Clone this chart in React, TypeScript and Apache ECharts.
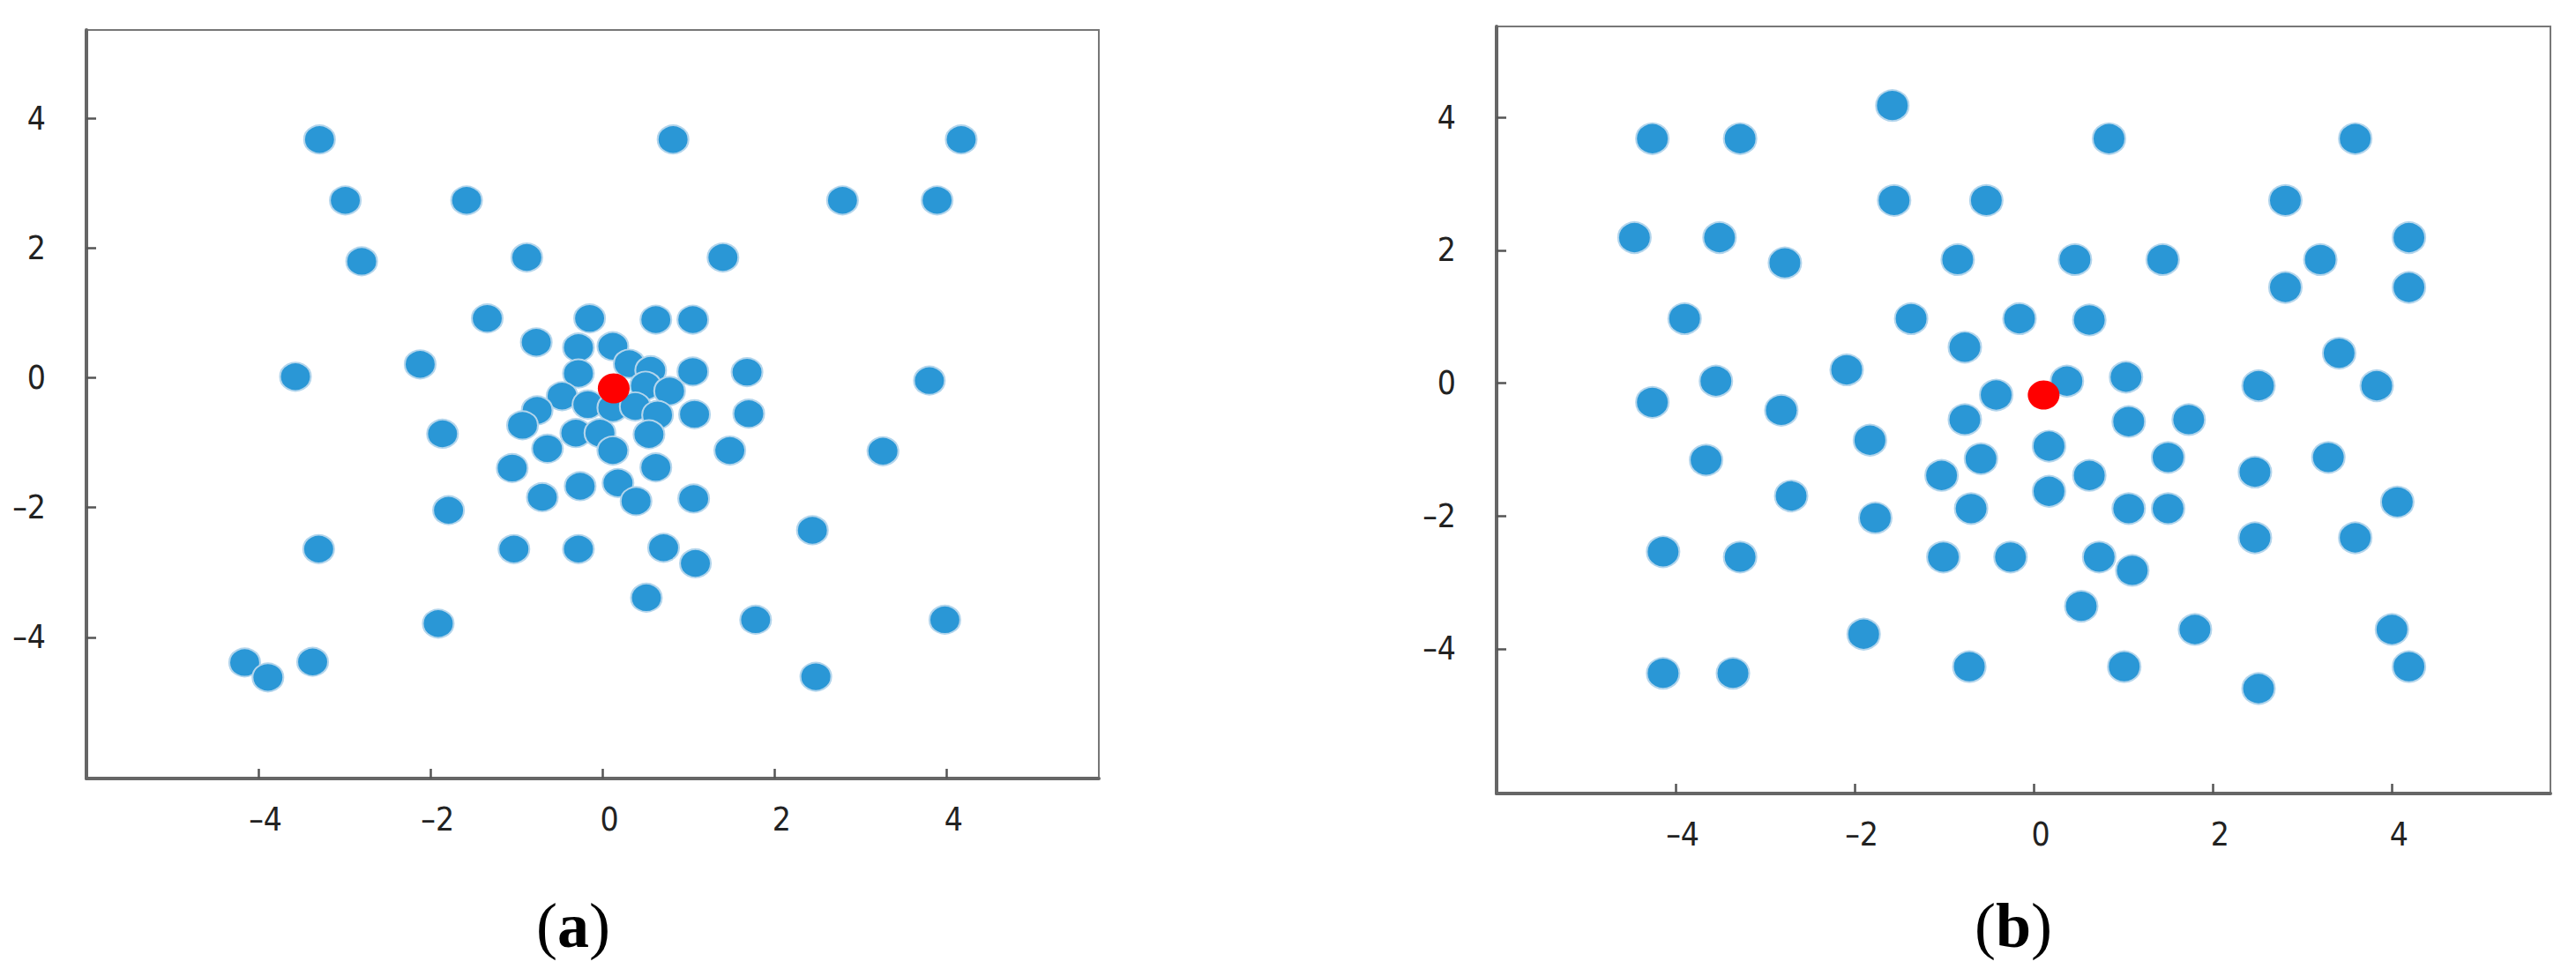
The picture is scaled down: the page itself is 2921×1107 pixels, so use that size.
import React, { useEffect, useRef } from "react";
import * as echarts from "echarts";

const tickValues = [-4, -2, 0, 2, 4];
const panelNames = ["a", "b"];

// panel (a): blue agents
const blueA: number[][] = [
  [-3.29, 3.68], [0.82, 3.68], [4.17, 3.68],
  [-2.99, 2.74], [-1.58, 2.74], [2.79, 2.74], [3.89, 2.74],
  [-2.8, 1.8], [-0.88, 1.86], [1.4, 1.86],
  [-1.34, 0.92], [-0.15, 0.92], [0.62, 0.9], [1.05, 0.9],
  [-0.77, 0.55], [-2.12, 0.21], [-3.57, 0.02], [1.68, 0.09], [1.05, 0.1], [3.8, -0.04],
  [1.7, -0.55], [1.07, -0.56], [-1.86, -0.86], [3.26, -1.13], [1.48, -1.12],
  [-1.05, -1.39], [0.62, -1.38], [-1.79, -2.04], [-0.7, -1.84], [-0.26, -1.67],
  [0.18, -1.62], [0.39, -1.9], [1.06, -1.86], [2.44, -2.35],
  [-3.3, -2.64], [-1.03, -2.64], [-0.28, -2.64], [0.71, -2.62], [1.08, -2.86],
  [0.51, -3.39], [-1.91, -3.79], [1.78, -3.73], [3.98, -3.73],
  [-4.16, -4.39], [-3.89, -4.62], [-3.37, -4.38], [2.48, -4.61],
  [-0.28, 0.47], [0.12, 0.49], [0.31, 0.22], [0.56, 0.12], [-0.28, 0.07],
  [0.5, -0.12], [0.78, -0.2], [-0.47, -0.28], [-0.76, -0.5], [-0.17, -0.41],
  [0.12, -0.46], [0.38, -0.44], [0.64, -0.57], [-0.93, -0.73], [-0.31, -0.85],
  [-0.03, -0.85], [0.54, -0.87], [-0.64, -1.09], [0.12, -1.12],
];
const redA: number[][] = [[0.13, -0.16]];

// panel (b): blue agents
const blueB: number[][] = [
  [-1.58, 4.18], [-4.26, 3.68], [-3.28, 3.68], [0.84, 3.68], [3.59, 3.68],
  [-1.56, 2.75], [-0.53, 2.75], [2.81, 2.75],
  [-4.46, 2.19], [-3.51, 2.19], [4.19, 2.19],
  [-2.78, 1.81], [-0.85, 1.86], [0.46, 1.86], [1.44, 1.86], [3.2, 1.86],
  [2.81, 1.44], [4.19, 1.44],
  [-3.9, 0.97], [-1.37, 0.97], [-0.16, 0.97], [0.62, 0.95],
  [-0.77, 0.54], [3.41, 0.45], [-2.09, 0.2], [-3.55, 0.03], [0.37, 0.03], [1.03, 0.09],
  [2.51, -0.04], [3.83, -0.04], [-4.26, -0.29], [-0.42, -0.18], [-2.82, -0.41],
  [-0.77, -0.55], [1.06, -0.58], [1.73, -0.55], [-1.83, -0.86], [0.17, -0.95],
  [-3.66, -1.16], [-0.59, -1.14], [1.5, -1.12], [3.29, -1.12],
  [-1.03, -1.39], [0.62, -1.39], [2.47, -1.34], [-2.71, -1.7], [0.17, -1.63], [4.06, -1.79],
  [-1.77, -2.03], [-0.7, -1.89], [1.06, -1.89], [1.5, -1.89],
  [-4.14, -2.54], [-3.28, -2.62], [-1.01, -2.62], [-0.26, -2.62], [0.73, -2.62],
  [2.47, -2.33], [3.59, -2.33], [1.1, -2.82], [0.53, -3.36],
  [-1.9, -3.78], [1.8, -3.71], [4.0, -3.71],
  [-4.14, -4.37], [-3.36, -4.37], [-0.72, -4.27], [1.01, -4.27], [4.19, -4.27], [2.51, -4.6],
];
const redB: number[][] = [[0.11, -0.18]];

const BLUE = "#2A97D6";
const RED = "#FF0000";
const labelFont = "'Liberation Sans Narrow', 'DejaVu Sans Condensed', 'Liberation Sans', Arial, sans-serif";

const fmt = (v: number) => (tickValues.indexOf(v) >= 0 ? (v < 0 ? "\u2013" + Math.abs(v) : String(v)) : "");

function makeX(gridIndex: number) {
  return {
    type: "value",
    gridIndex,
    min: -6,
    max: 5.77,
    axisLine: { show: true, onZero: false, lineStyle: { color: "#666", width: 4 } },
    axisTick: { show: true, inside: true, length: 11, customValues: tickValues, lineStyle: { color: "#555", width: 2.5 } },
    axisLabel: { show: true, customValues: tickValues, formatter: fmt, fontSize: 37, color: "#222", margin: 28, fontFamily: labelFont, padding: [0, 0, 0, 16] },
    splitLine: { show: false },
  };
}
function makeY(gridIndex: number) {
  return {
    type: "value",
    gridIndex,
    min: -6.18,
    max: 5.37,
    axisLine: { show: true, onZero: false, lineStyle: { color: "#666", width: 4 } },
    axisTick: { show: true, inside: true, length: 11, customValues: tickValues, lineStyle: { color: "#555", width: 2.5 } },
    axisLabel: { show: true, customValues: tickValues, formatter: fmt, fontSize: 37, color: "#222", margin: 46, fontFamily: labelFont },
    splitLine: { show: false },
  };
}

function scatter(idx: number, data: number[][], color: string, size: number[], border: boolean) {
  return {
    type: "scatter",
    xAxisIndex: idx,
    yAxisIndex: idx,
    data,
    symbol: "circle",
    symbolSize: size,
    itemStyle: {
      color,
      opacity: 1,
      borderColor: border ? "#B3D5EC" : color,
      borderWidth: border ? 2 : 0,
    },
    emphasis: { disabled: true },
    silent: true,
  };
}

function panelLabel(name: string, cx: number, cy: number) {
  return {
    type: "text",
    x: cx,
    y: cy,
    style: {
      text: "{p|(}{b|" + name + "}{p|)}",
      align: "center",
      verticalAlign: "middle",
      textAlign: "center",
      textVerticalAlign: "middle",
      rich: {
        p: { fontFamily: "'Liberation Serif', 'DejaVu Serif', serif", fontSize: 72, fill: "#000" },
        b: { fontFamily: "'Liberation Serif', 'DejaVu Serif', serif", fontWeight: "bold", fontSize: 72, fill: "#000" },
      },
    },
  };
}

export default function App() {
  const ref = useRef<HTMLDivElement>(null);
  useEffect(() => {
    if (!ref.current) return;
    const chart = echarts.init(ref.current, undefined, { renderer: "svg" });
    chart.setOption({
      animation: false,
      backgroundColor: "#ffffff",
      grid: [
        { left: 98, top: 34, width: 1148, height: 849, show: true, borderColor: "#777", borderWidth: 2, backgroundColor: "transparent" },
        { left: 1697, top: 30, width: 1195, height: 870, show: true, borderColor: "#777", borderWidth: 2, backgroundColor: "transparent" },
      ],
      xAxis: [makeX(0), makeX(1)],
      yAxis: [makeY(0), makeY(1)],
      series: [
        scatter(0, blueA, BLUE, [35, 32], true),
        scatter(0, redA, RED, [36, 34], false),
        scatter(1, blueB, BLUE, [37, 35], true),
        scatter(1, redB, RED, [36, 33], false),
      ],
      graphic: [panelLabel(panelNames[0], 650, 1050), panelLabel(panelNames[1], 2283, 1050)],
    });
    return () => chart.dispose();
  }, []);
  return (
    <div
      ref={ref}
      style={{ position: "fixed", left: 0, top: 0, width: 2921, height: 1107, background: "#fff" }}
    />
  );
}
